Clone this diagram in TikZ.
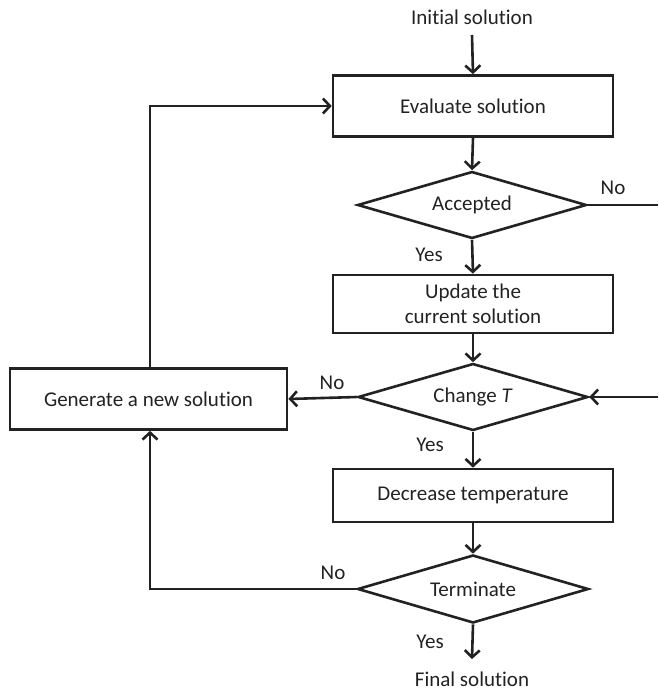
\documentclass[tikz,border=0pt]{standalone}
\usepackage{fontspec}
\setmainfont{Carlito}[Ligatures=NoCommon]
\usetikzlibrary{shapes.geometric,arrows.meta}
\definecolor{ink}{HTML}{222222}
\tikzset{
  every node/.style={font=\fontsize{21}{25}\selectfont, text=ink},
  stepbox/.style={draw=ink, line width=2.6pt, rectangle, inner sep=0pt, align=center},
  decision/.style={draw=ink, line width=2.6pt, diamond, shape aspect=3.4, inner sep=0pt},
  flow/.style={draw=ink, line width=2.6pt, -{Straight Barb[length=7pt,width=15pt,line width=2.6pt]}},
  line/.style={draw=ink, line width=2.6pt},
  lbl/.style={inner sep=0pt}
}
\begin{document}
\begin{tikzpicture}[x=1pt,y=-1pt]
  \useasboundingbox (0,0) rectangle (658,690);

  % terminals
  \node[lbl] (start) at (472,17) {Initial solution};
  \node[lbl] (final) at (472,679) {Final solution};

  % process boxes
  \node[stepbox, minimum width=280, minimum height=61] (eval) at (473,106) {Evaluate solution};
  \node[stepbox, minimum width=280, minimum height=58] (update) at (473,304)
       {Update the\\current solution};
  \node[stepbox, minimum width=280, minimum height=53] (decr) at (473,495.5) {Decrease temperature};
  \node[stepbox, minimum width=277, minimum height=61] (gen) at (148.5,399) {Generate a new solution};

  % decisions
  \node[decision, minimum width=229, minimum height=67] (acc) at (472,205) {Accepted};
  \node[decision, minimum width=230, minimum height=67] (chg) at (473,397) {Change \textit{T}};
  \node[decision, minimum width=231, minimum height=68] (term) at (473,589) {Terminate};

  % loose ends at the right margin
  \coordinate (accout) at (658,205);
  \coordinate (chgin) at (658,397);

  % main flow
  \draw[flow] (start.south |- 0,35) -- (eval.north);
  \draw[flow] (eval.south) -- (acc.north);
  \draw[flow] (acc.south) -- (update.north);
  \draw[flow] (update.south) -- (chg.north);
  \draw[flow] (chg.south) -- (decr.north);
  \draw[flow] (decr.south) -- (term.north);
  \draw[flow] (term.south) -- (final.north |- 0,659);

  % branches
  \draw[line] (acc.east) -- (accout);
  \draw[flow] (chgin) -- (chg.east);
  \draw[flow] (chg.west) -- (gen.east);
  \draw[flow] (gen.north -| 150,0) |- (eval.west);
  \draw[flow] (term.west) -| (gen.south -| 150,0);

  % branch labels
  \node[lbl] at (613,188) {No};
  \node[lbl] at (429,255) {Yes};
  \node[lbl] at (332,383) {No};
  \node[lbl] at (430,445) {Yes};
  \node[lbl] at (333,573) {No};
  \node[lbl] at (430,642) {Yes};
\end{tikzpicture}
\end{document}
